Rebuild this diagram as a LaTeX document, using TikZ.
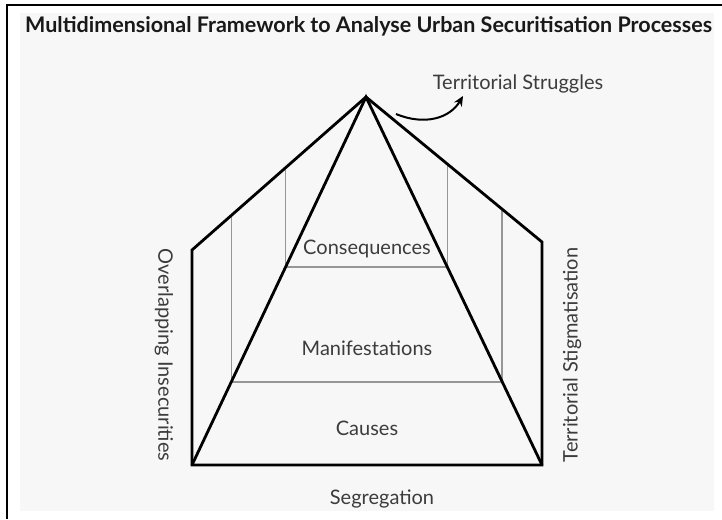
\documentclass[tikz,border=0pt]{standalone}
\usepackage{fontspec}
\setmainfont{Lato}
\usepackage{tikz}
\usetikzlibrary{calc}
\usetikzlibrary{arrows.meta}
\definecolor{paperColor}{RGB}{247,247,247}
\definecolor{levelColor}{RGB}{150,150,150}
\definecolor{labelColor}{RGB}{60,60,60}
\tikzstyle{framework} = [x = 1pt, y = -1pt]
\tikzstyle{outline} = [color=black, line width=2.8pt]
\tikzstyle{frameLine} = [color=black, line width=2pt]
\tikzstyle{levelLine} = [color=levelColor, line width=1.5pt]
\tikzstyle{levelText} = [text=labelColor, font=\fontsize{20}{24}\selectfont, inner sep=0pt]
\tikzstyle{titleText} = [text=black!90, font=\fontsize{21.5}{24}\selectfont\bfseries, inner sep=0pt, anchor=base west]
\tikzstyle{struggleArrow} = [color=black, line width=2pt, -{Stealth[length=10pt, width=9pt]}]
% grey lines of one level: #1 fraction from the apex, #2 name
\newcommand{\levelLines}[2]{
  \draw [levelLine] ($(apex)!#1!(leftTop)$) -- ($(apex)!#1!(leftBase)$) coordinate (#2West)
    -- ($(apex)!#1!(rightBase)$) coordinate (#2East) -- ($(apex)!#1!(rightTop)$);
}

\begin{document}
\begin{tikzpicture}[framework]
  \useasboundingbox (0,0) rectangle (722,519);
  \fill [white] (0,0) rectangle (722,519);
  \fill [paperColor] (20,13) rectangle (714,511);
  \draw [frameLine] (7,519) -- (7,5) -- (722,5);
  \node [titleText] (title) at (25,33) {Multidimensional Framework to Analyse Urban Securitisation Processes};

  \coordinate (apex) at (366,97);
  \coordinate (leftTop) at (192,250);
  \coordinate (rightTop) at (542,242);
  \coordinate (leftBase) at (192,465);
  \coordinate (rightBase) at (542,465);

  \levelLines{.462}{consequences}
  \levelLines{.774}{manifestations}

  \draw [outline] (leftBase) -- (leftTop) -- (apex) -- (rightTop) -- (rightBase) -- cycle;
  \draw [outline] (leftBase) -- (apex) -- (rightBase);

  \node [levelText] (consequencesText) at (367,249) {Consequences};
  \node [levelText] (manifestationsText) at (367,348) {Manifestations};
  \node [levelText] (causesText) at (367,428) {Causes};
  \node [levelText] (segregation) at (382,499) {Segregation};
  \node [levelText, rotate=-90] (insecurities) at (164,355) {Overlapping Insecurities};
  \node [levelText, rotate=90] (stigmatisation) at (572,355) {Territorial Stigmatisation};
  \node [levelText] (struggles) at (518,84) {Territorial Struggles};

  \coordinate (arrowTail) at (396,114);
  \coordinate (arrowHead) at (463,96);
  \draw [struggleArrow] (arrowTail) .. controls (425,126) and (450,118) .. (arrowHead);
\end{tikzpicture}
\end{document}
